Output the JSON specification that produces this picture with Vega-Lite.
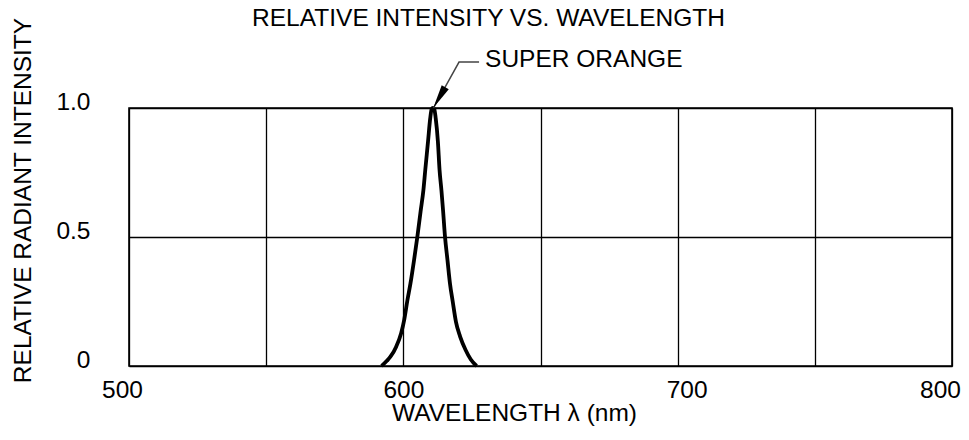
{
  "$schema": "https://vega.github.io/schema/vega-lite/v6.json",
  "width": 823,
  "height": 258,
  "autosize": {"type": "none"},
  "padding": {"left": 129, "top": 108, "right": 17, "bottom": 74},
  "background": "white",
  "config": {
    "font": "Liberation Sans",
    "view": {"stroke": "#000", "strokeWidth": 1.6},
    "axis": {
      "labelFont": "Liberation Sans",
      "titleFont": "Liberation Sans",
      "labelFontSize": 24.5,
      "titleFontSize": 24.5,
      "titleFontWeight": "normal",
      "labelColor": "#000",
      "titleColor": "#000",
      "ticks": false,
      "domain": false,
      "labelFlush": false,
      "labelOverlap": false,
      "gridColor": "#000",
      "gridOpacity": 1,
      "gridWidth": 1.3
    }
  },
  "title": {
    "text": "RELATIVE INTENSITY VS. WAVELENGTH",
    "font": "Liberation Sans",
    "fontSize": 24.5,
    "fontWeight": "normal",
    "color": "#000",
    "frame": "group",
    "anchor": "middle",
    "baseline": "alphabetic",
    "dx": -52,
    "offset": 0,
    "dy": 33
  },
  "datasets": {
    "curve": [
      {"wl": 592.1, "rel": 0},
      {"wl": 594.0, "rel": 0.02},
      {"wl": 595.3, "rel": 0.036},
      {"wl": 597.4, "rel": 0.075},
      {"wl": 599.2, "rel": 0.127},
      {"wl": 600.3, "rel": 0.178},
      {"wl": 601.5, "rel": 0.256},
      {"wl": 602.6, "rel": 0.32},
      {"wl": 603.9, "rel": 0.41},
      {"wl": 605.1, "rel": 0.5},
      {"wl": 606.3, "rel": 0.6},
      {"wl": 607.3, "rel": 0.68},
      {"wl": 608.0, "rel": 0.76},
      {"wl": 609.0, "rel": 0.87},
      {"wl": 609.8, "rel": 0.96},
      {"wl": 610.3, "rel": 0.995},
      {"wl": 610.8, "rel": 1.0},
      {"wl": 611.3, "rel": 0.995},
      {"wl": 611.8, "rel": 0.96},
      {"wl": 612.6, "rel": 0.87},
      {"wl": 613.2, "rel": 0.76},
      {"wl": 613.9, "rel": 0.68},
      {"wl": 614.5, "rel": 0.6},
      {"wl": 615.2, "rel": 0.5},
      {"wl": 616.1, "rel": 0.41},
      {"wl": 617.0, "rel": 0.32},
      {"wl": 618.0, "rel": 0.25},
      {"wl": 619.2, "rel": 0.17},
      {"wl": 620.7, "rel": 0.114},
      {"wl": 622.7, "rel": 0.062},
      {"wl": 624.6, "rel": 0.025},
      {"wl": 626.7, "rel": 0}
    ],
    "leader": [
      {"wl": 611.0, "rel": 1.0},
      {"wl": 620.3, "rel": 1.178},
      {"wl": 627.6, "rel": 1.178}
    ],
    "arrow": [
      {"wl": 610.9, "rel": 1.0}
    ],
    "label": [
      {"wl": 629.8, "rel": 1.159, "text": "SUPER ORANGE"}
    ]
  },
  "layer": [
    {
      "data": {"name": "curve"},
      "mark": {"type": "line", "color": "#000", "strokeWidth": 3.8, "interpolate": "monotone", "clip": false},
      "encoding": {
        "x": {
          "field": "wl", "type": "quantitative",
          "scale": {"domain": [500, 800], "nice": false, "zero": false},
          "axis": {
            "values": [500, 550, 600, 650, 700, 750, 800],
            "labelExpr": "datum.value % 100 == 0 ? datum.label : ''",
            "labelPadding": 12,
            "labelOffset": {
              "condition": [
                {"test": "datum.value == 500", "value": -7},
                {"test": "datum.value == 700", "value": 9},
                {"test": "datum.value == 800", "value": -12}
              ],
              "value": 0
            },
            "title": "WAVELENGTH λ (nm)",
            "titleX": 385,
            "titleY": 54,
            "titleBaseline": "alphabetic",
            "titleAlign": "center"
          }
        },
        "y": {
          "field": "rel", "type": "quantitative",
          "scale": {"domain": [0, 1], "nice": false},
          "axis": {
            "values": [0, 0.5, 1],
            "labelExpr": "datum.value == 0 ? '0' : format(datum.value, '.1f')",
            "labelPadding": 39,
            "labelOffset": -6,
            "title": "RELATIVE RADIANT INTENSITY",
            "titleX": -99,
            "titleY": 92,
            "titleBaseline": "alphabetic",
            "titleAlign": "center",
            "titleAngle": -90
          }
        }
      }
    },
    {
      "data": {"name": "leader"},
      "mark": {"type": "line", "color": "#444", "strokeWidth": 1.5, "clip": false},
      "encoding": {
        "x": {"field": "wl", "type": "quantitative"},
        "y": {"field": "rel", "type": "quantitative"}
      }
    },
    {
      "data": {"name": "arrow"},
      "mark": {"type": "point", "shape": "M0,0 L-0.17,-1 L0.17,-1 Z", "filled": true, "color": "#000", "opacity": 1, "size": 2304, "angle": 30, "clip": false},
      "encoding": {
        "x": {"field": "wl", "type": "quantitative"},
        "y": {"field": "rel", "type": "quantitative"}
      }
    },
    {
      "data": {"name": "label"},
      "mark": {"type": "text", "align": "left", "baseline": "alphabetic", "font": "Liberation Sans", "fontSize": 24.5, "color": "#000", "clip": false},
      "encoding": {
        "x": {"field": "wl", "type": "quantitative"},
        "y": {"field": "rel", "type": "quantitative"},
        "text": {"field": "text"}
      }
    }
  ]
}
